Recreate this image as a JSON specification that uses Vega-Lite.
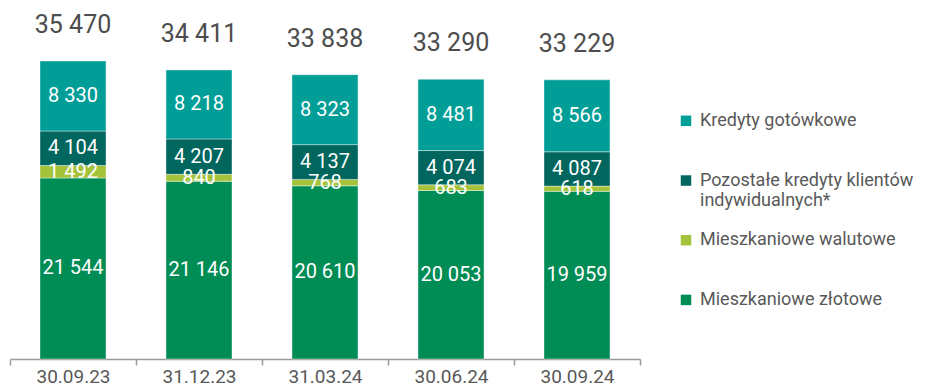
{
  "$schema": "https://vega.github.io/schema/vega-lite/v6.json",
  "autosize": "none",
  "width": 630,
  "height": 359,
  "padding": {"left": 10, "top": 0, "right": 303, "bottom": 25},
  "background": "white",
  "config": {
    "view": {"stroke": null},
    "font": "Roboto",
    "locale": {"number": {"decimal": ",", "thousands": " ", "grouping": [3], "currency": ["", " zł"]}}
  },
  "data": {
    "values": [
      {"date": "30.09.23", "category": "Mieszkaniowe złotowe", "value": 21544, "order": 1},
      {"date": "30.09.23", "category": "Mieszkaniowe walutowe", "value": 1492, "order": 2},
      {"date": "30.09.23", "category": "Pozostałe kredyty klientów indywidualnych*", "value": 4104, "order": 3},
      {"date": "30.09.23", "category": "Kredyty gotówkowe", "value": 8330, "order": 4, "total": 35470},
      {"date": "31.12.23", "category": "Mieszkaniowe złotowe", "value": 21146, "order": 1},
      {"date": "31.12.23", "category": "Mieszkaniowe walutowe", "value": 840, "order": 2},
      {"date": "31.12.23", "category": "Pozostałe kredyty klientów indywidualnych*", "value": 4207, "order": 3},
      {"date": "31.12.23", "category": "Kredyty gotówkowe", "value": 8218, "order": 4, "total": 34411},
      {"date": "31.03.24", "category": "Mieszkaniowe złotowe", "value": 20610, "order": 1},
      {"date": "31.03.24", "category": "Mieszkaniowe walutowe", "value": 768, "order": 2},
      {"date": "31.03.24", "category": "Pozostałe kredyty klientów indywidualnych*", "value": 4137, "order": 3},
      {"date": "31.03.24", "category": "Kredyty gotówkowe", "value": 8323, "order": 4, "total": 33838},
      {"date": "30.06.24", "category": "Mieszkaniowe złotowe", "value": 20053, "order": 1},
      {"date": "30.06.24", "category": "Mieszkaniowe walutowe", "value": 683, "order": 2},
      {"date": "30.06.24", "category": "Pozostałe kredyty klientów indywidualnych*", "value": 4074, "order": 3},
      {"date": "30.06.24", "category": "Kredyty gotówkowe", "value": 8481, "order": 4, "total": 33290},
      {"date": "30.09.24", "category": "Mieszkaniowe złotowe", "value": 19959, "order": 1},
      {"date": "30.09.24", "category": "Mieszkaniowe walutowe", "value": 618, "order": 2},
      {"date": "30.09.24", "category": "Pozostałe kredyty klientów indywidualnych*", "value": 4087, "order": 3},
      {"date": "30.09.24", "category": "Kredyty gotówkowe", "value": 8566, "order": 4, "total": 33229}
    ]
  },
  "transform": [
    {"stack": "value", "groupby": ["date"], "sort": [{"field": "order", "order": "ascending"}], "as": ["y0", "y1"]},
    {"calculate": "(datum.y0 + datum.y1) / 2", "as": "ymid"}
  ],
  "encoding": {
    "x": {
      "field": "date",
      "type": "nominal",
      "sort": null,
      "scale": {"paddingInner": 0, "paddingOuter": 0},
      "axis": {
        "title": null,
        "labelAngle": 0,
        "labelFontSize": 19,
        "labelColor": "#595959",
        "labelPadding": 2,
        "domainColor": "#9a9a9a",
        "domainWidth": 1.5,
        "tickColor": "#9a9a9a",
        "tickWidth": 1.5,
        "tickSize": 6,
        "tickBand": "extent"
      }
    }
  },
  "layer": [
    {
      "mark": {"type": "bar", "width": {"band": 0.524}, "stroke": "#ffffff", "strokeWidth": 0.8, "strokeOpacity": 0.5},
      "encoding": {
        "y": {"field": "y1", "type": "quantitative", "scale": {"domain": [0, 42730]}, "axis": null},
        "y2": {"field": "y0"},
        "color": {
          "field": "category",
          "type": "nominal",
          "scale": {
            "domain": ["Kredyty gotówkowe", "Pozostałe kredyty klientów indywidualnych*", "Mieszkaniowe walutowe", "Mieszkaniowe złotowe"],
            "range": ["#009e96", "#00665e", "#a5c33a", "#008c55"]
          },
          "legend": {
            "title": null,
            "orient": "none",
            "legendX": 667,
            "legendY": 103,
            "symbolType": "M-1,0.68H1V2.68H-1Z",
            "symbolSize": 110,
            "symbolStrokeWidth": 0,
            "labelFontSize": 18,
            "labelColor": "#595959",
            "labelLimit": 300,
            "labelBaseline": "top",
            "gridAlign": "all",
            "rowPadding": 12.7,
            "labelOffset": 5,
            "labelExpr": "datum.label == 'Pozostałe kredyty klientów indywidualnych*' ? ['Pozostałe kredyty klientów', 'indywidualnych*'] : datum.label"
          }
        }
      }
    },
    {
      "mark": {"type": "text", "color": "white", "fontSize": 20, "baseline": "middle", "align": "center"},
      "encoding": {
        "y": {"field": "ymid", "type": "quantitative", "scale": {"domain": [0, 42730]}},
        "text": {"field": "value", "type": "quantitative", "format": ",d"}
      }
    },
    {
      "transform": [{"filter": "datum.order == 4"}],
      "mark": {"type": "text", "color": "#4d4d4d", "fontSize": 25, "baseline": "middle", "align": "center", "dy": -36},
      "encoding": {
        "y": {"field": "y1", "type": "quantitative", "scale": {"domain": [0, 42730]}},
        "text": {"field": "total", "type": "quantitative", "format": ",d"}
      }
    }
  ]
}
